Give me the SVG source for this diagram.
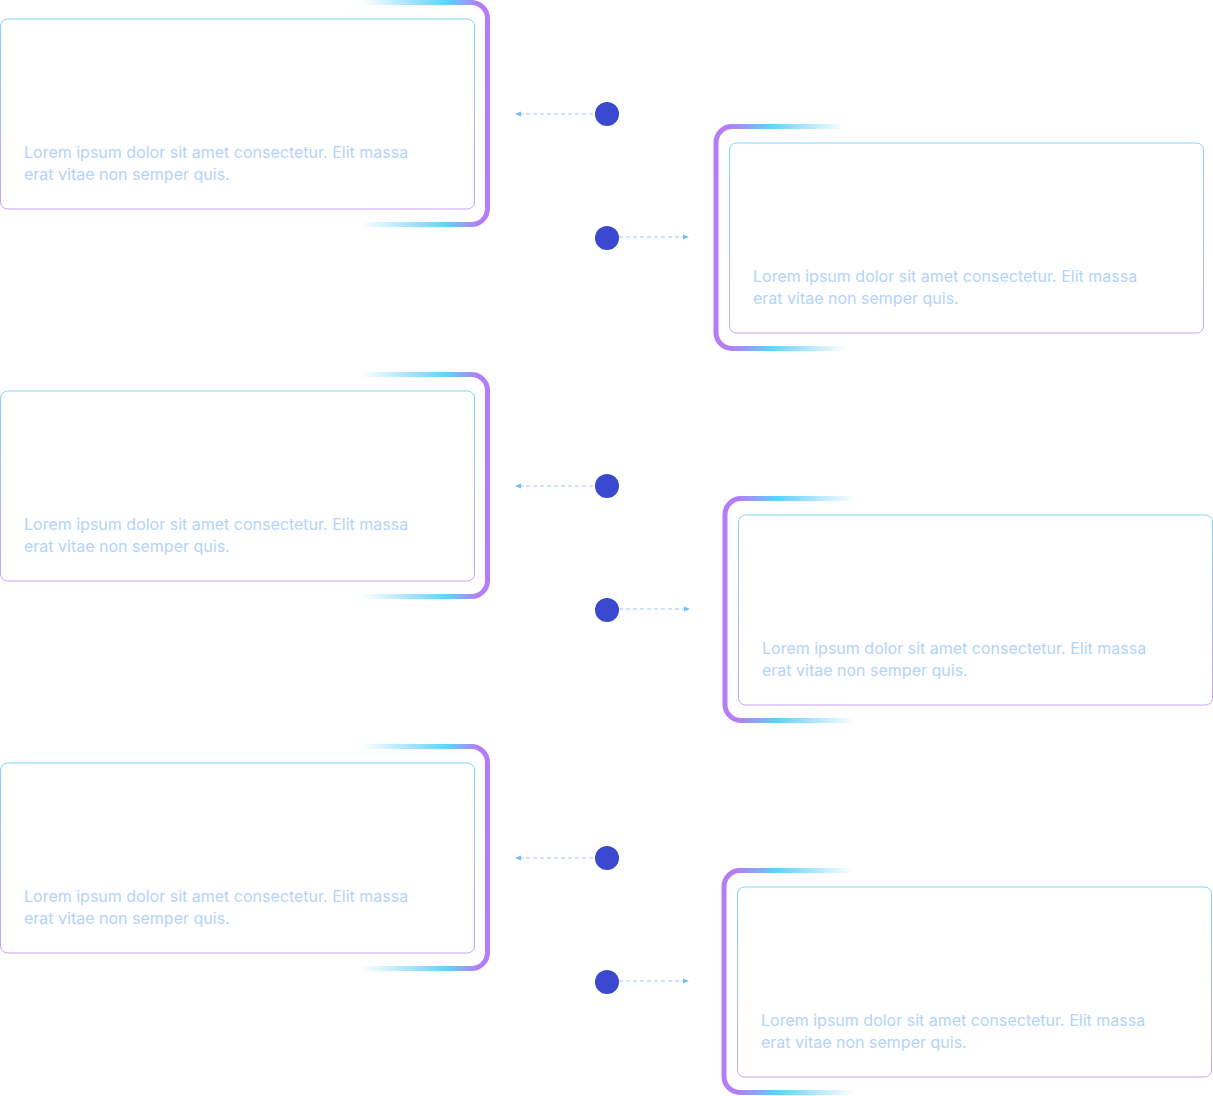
<svg xmlns="http://www.w3.org/2000/svg" width="1213" height="1096" viewBox="0 0 1213 1096">
<defs>
<linearGradient id="gL" x1="0" y1="0" x2="1" y2="0"><stop offset="0" stop-color="#5fd0fb" stop-opacity="0"/><stop offset="0.7" stop-color="#5fd0fb"/><stop offset="0.93" stop-color="#b47cf7"/></linearGradient>
<linearGradient id="gR" x1="1" y1="0" x2="0" y2="0"><stop offset="0" stop-color="#5fd0fb" stop-opacity="0"/><stop offset="0.6" stop-color="#5fd0fb"/><stop offset="0.9" stop-color="#b47cf7"/></linearGradient>
<linearGradient id="gC" x1="0" y1="0" x2="0" y2="1"><stop offset="0" stop-color="#7fd6f8"/><stop offset="1" stop-color="#c9a3f7"/></linearGradient>
<marker id="ah" markerWidth="6" markerHeight="6" refX="5" refY="3" orient="auto" markerUnits="userSpaceOnUse"><path d="M0,0.5 L6,3 L0,5.5z" fill="#6cc0f5"/></marker>
<style>
.br{fill:none;stroke-width:5}
.card{fill:#fff;stroke:url(#gC);stroke-width:1}
.t{font-family:Inter,"Liberation Sans",sans-serif;font-size:16px;fill:#b3d3fa}
.dot{fill:#3a49cf}
.ln{stroke:#9cc8f7;stroke-width:1.2;stroke-dasharray:4 3;fill:none}
</style>
</defs>
<g id="connectors">
<path class="ln" d="M593,114 H516" marker-end="url(#ah)"/>
<path class="ln" d="M619,237 H688" marker-end="url(#ah)"/>
<path class="ln" d="M593,486 H516" marker-end="url(#ah)"/>
<path class="ln" d="M619,609 H689" marker-end="url(#ah)"/>
<path class="ln" d="M593,858 H516" marker-end="url(#ah)"/>
<path class="ln" d="M619,981 H688" marker-end="url(#ah)"/>
</g>
<g id="dots">
<circle class="dot" cx="607" cy="114" r="12"/><circle class="dot" cx="607" cy="238" r="12"/>
<circle class="dot" cx="607" cy="486" r="12"/><circle class="dot" cx="607" cy="610" r="12"/>
<circle class="dot" cx="607" cy="858" r="12"/><circle class="dot" cx="607" cy="982" r="12"/>
</g>
<g id="card-l1">
<path class="br" stroke="url(#gL)" d="M360,2.5 H471 A16,16 0 0 1 487.5,18.5 V208.5 A16,16 0 0 1 471,224.5 H360"/>
<rect class="card" x="0.5" y="19" width="474" height="190" rx="7"/>
<text class="t" x="24" y="158">Lorem ipsum dolor sit amet consectetur. Elit massa</text>
<text class="t" x="24" y="180">erat vitae non semper quis.</text>
</g>
<g id="card-l2" transform="translate(0,372)">
<path class="br" stroke="url(#gL)" d="M360,2.5 H471 A16,16 0 0 1 487.5,18.5 V208.5 A16,16 0 0 1 471,224.5 H360"/>
<rect class="card" x="0.5" y="19" width="474" height="190" rx="7"/>
<text class="t" x="24" y="158">Lorem ipsum dolor sit amet consectetur. Elit massa</text>
<text class="t" x="24" y="180">erat vitae non semper quis.</text>
</g>
<g id="card-l3" transform="translate(0,744)">
<path class="br" stroke="url(#gL)" d="M360,2.5 H471 A16,16 0 0 1 487.5,18.5 V208.5 A16,16 0 0 1 471,224.5 H360"/>
<rect class="card" x="0.5" y="19" width="474" height="190" rx="7"/>
<text class="t" x="24" y="158">Lorem ipsum dolor sit amet consectetur. Elit massa</text>
<text class="t" x="24" y="180">erat vitae non semper quis.</text>
</g>
<g id="card-r1" transform="translate(729,124)">
<path class="br" stroke="url(#gR)" d="M117,2.5 H3 A16,16 0 0 0 -13,18.5 V208.5 A16,16 0 0 0 3,224.5 H117"/>
<rect class="card" x="0.5" y="19" width="474" height="190" rx="7"/>
<text class="t" x="24" y="158">Lorem ipsum dolor sit amet consectetur. Elit massa</text>
<text class="t" x="24" y="180">erat vitae non semper quis.</text>
</g>
<g id="card-r2" transform="translate(738,496)">
<path class="br" stroke="url(#gR)" d="M117,2.5 H3 A16,16 0 0 0 -13,18.5 V208.5 A16,16 0 0 0 3,224.5 H117"/>
<rect class="card" x="0.5" y="19" width="474" height="190" rx="7"/>
<text class="t" x="24" y="158">Lorem ipsum dolor sit amet consectetur. Elit massa</text>
<text class="t" x="24" y="180">erat vitae non semper quis.</text>
</g>
<g id="card-r3" transform="translate(737,868)">
<path class="br" stroke="url(#gR)" d="M117,2.5 H3 A16,16 0 0 0 -13,18.5 V208.5 A16,16 0 0 0 3,224.5 H117"/>
<rect class="card" x="0.5" y="19" width="474" height="190" rx="7"/>
<text class="t" x="24" y="158">Lorem ipsum dolor sit amet consectetur. Elit massa</text>
<text class="t" x="24" y="180">erat vitae non semper quis.</text>
</g>
</svg>
